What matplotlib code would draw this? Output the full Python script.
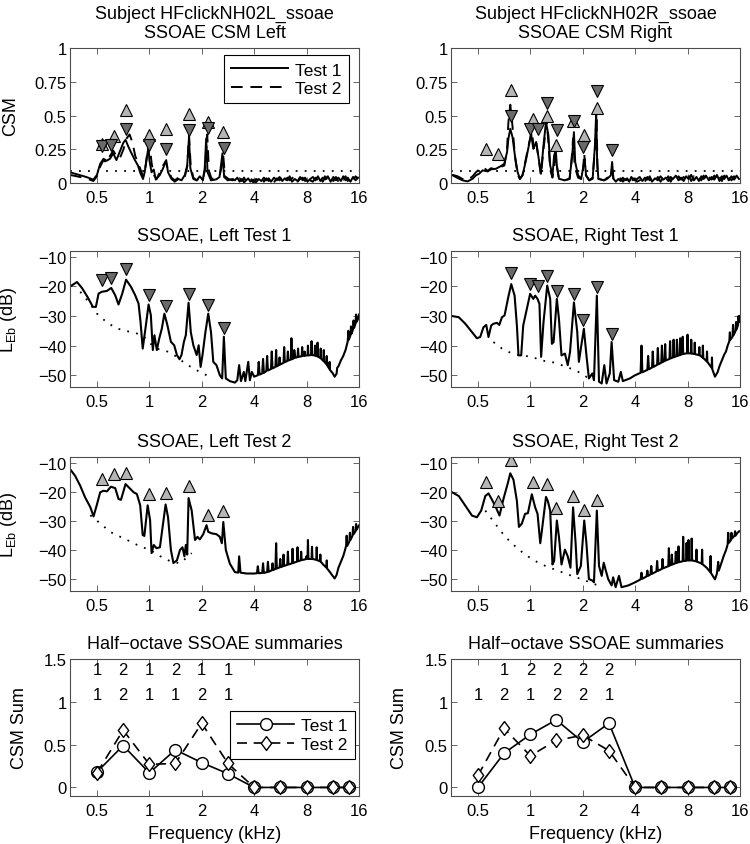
import matplotlib
matplotlib.use("Agg")
import matplotlib.pyplot as plt

plt.rcParams["font.family"] = ["Liberation Sans", "DejaVu Sans"]
plt.rcParams["font.size"] = 12
plt.rcParams["mathtext.default"] = "regular"
plt.rcParams["axes.linewidth"] = 0.8

freq_ticks = [0.5, 1, 2, 4, 8, 16]
freq_labels = ["0.5", "1", "2", "4", "8", "16"]

# ---------------- SSOAE spectra (kHz, dB) ----------------
spec_l1_f = [0.355, 0.384, 0.41, 0.441, 0.474, 0.493, 0.511, 0.533, 0.571, 0.604,
             0.637, 0.665, 0.699, 0.735, 0.784, 0.83, 0.867, 0.89, 0.916, 0.95,
             0.99, 1.02, 1.047, 1.07, 1.104, 1.14, 1.18, 1.22, 1.27, 1.33,
             1.39, 1.44, 1.49, 1.53, 1.58, 1.62, 1.68, 1.73, 1.79, 1.87,
             1.92, 1.97, 2.02, 2.1, 2.18, 2.26, 2.33, 2.43, 2.54, 2.62,
             2.68, 2.75, 2.9, 3.1, 3.2, 3.28, 3.36, 3.49, 3.56, 3.7, 3.78, 3.88,
             4.0, 4.2, 4.25, 4.3, 4.45, 4.5, 4.55, 4.7, 4.75, 4.8,
             5.0, 5.05, 5.1, 5.3, 5.35, 5.4, 5.55, 5.6, 5.65, 5.9,
             5.95, 6.0, 6.2, 6.25, 6.3, 6.5, 6.55, 6.6, 6.75, 6.8,
             6.9, 7.1, 7.15, 7.2, 7.5, 7.55, 7.6, 7.75, 7.8, 7.85,
             8.1, 8.15, 8.2, 8.5, 8.55, 8.6, 8.9, 8.95, 9.0, 9.2,
             9.25, 9.3, 9.6, 9.65, 9.7, 10.0, 10.05, 10.1, 10.4, 10.45,
             10.5, 10.8, 10.85, 10.9, 11.3, 11.6, 11.9, 12.0, 12.2, 12.6,
             13.0, 13.4, 13.6, 13.8, 13.9, 14.0, 14.3, 14.4, 14.5, 14.8,
             14.9, 15.0, 15.3, 15.4, 15.5, 15.8, 16.0]
spec_l1 = [-19.8, -18.5, -20.5, -23.5, -26.9, -26.9, -22.4, -21.8, -21.5, -20.5,
           -23, -26.1, -22.4, -17.7, -20.1, -23, -25.8, -32, -41, -34.2,
           -26.1, -29.7, -41.5, -36.5, -41.5, -37.6, -34.2, -29.2, -33.1, -38.7,
           -39.9, -43.2, -44.6, -43.2, -38.7, -36.5, -25.5, -35.4, -39.9, -43.2,
           -39.9, -47.2, -43.2, -35.4, -29.2, -35.4, -45.5, -46.6, -50, -51.1,
           -37, -51.1, -52, -52.5, -51.7, -46.6, -52, -48.9, -52, -45.5, -51.7, -48.9,
           -50.5, -50.0, -45.5, -49.8, -49.4, -44.5, -49.2, -48.6, -43.5, -48.4,
           -47.9, -42.0, -47.7, -47.2, -41.5, -47.0, -46.6, -44.0, -46.4, -45.8,
           -40.5, -45.6, -45.2, -42.0, -45.0, -44.7, -37.5, -44.6, -44.3, -41.5,
           -44.1, -43.9, -41.0, -43.8, -43.6, -40.5, -43.5, -43.4, -42.0, -43.4,
           -43.3, -40.0, -43.3, -43.2, -38.5, -43.2, -43.3, -40.0, -43.4, -43.6,
           -39.0, -43.7, -44.2, -41.0, -44.4, -45.2, -41.5, -45.4, -46.3, -43.5,
           -46.6, -47.8, -45.5, -48.2, -49.3, -50.5, -49.5, -47.5, -47.0, -45.0,
           -43.5, -41.5, -40.0, -38.5, -35.0, -38.0, -36.5, -33.5, -36.0, -34.5,
           -31.5, -34.0, -32.5, -29.5, -32.0, -31.0, -29.5]

spec_l2_f = [0.355, 0.375, 0.401, 0.427, 0.458, 0.478, 0.5, 0.522, 0.546, 0.571,
             0.601, 0.637, 0.665, 0.687, 0.73, 0.77, 0.812, 0.848, 0.886, 0.916,
             0.936, 0.978, 1.01, 1.03, 1.06, 1.1, 1.15, 1.2, 1.24, 1.28,
             1.33, 1.375, 1.44, 1.5, 1.55, 1.59, 1.62, 1.65, 1.68, 1.75,
             1.83, 1.89, 1.95, 2.04, 2.13, 2.18, 2.28, 2.43, 2.54, 2.61,
             2.66, 2.75, 2.9, 3.1, 3.24, 3.28, 3.34, 3.62,
             4.0, 4.15, 4.2, 4.25, 4.45, 4.5, 4.55, 4.75, 4.8, 4.85,
             5.05, 5.1, 5.15, 5.3, 5.35, 5.4, 5.6, 5.65, 5.7, 5.85,
             5.9, 5.95, 6.2, 6.25, 6.3, 6.6, 6.65, 6.7, 7.05, 7.1,
             7.15, 7.4, 7.45, 7.5, 7.9, 8.0, 8.1, 8.15, 8.2, 8.55,
             8.6, 8.65, 9.1, 9.15, 9.2, 9.55, 9.6, 9.65, 10.0, 10.4,
             10.45, 10.5, 10.9, 11.2, 11.6, 11.9, 12.2, 12.6, 13.0, 13.3,
             13.5, 13.6, 13.7, 14.1, 14.2, 14.3, 14.7, 14.8, 14.9, 15.3,
             15.4, 15.5, 15.8, 16.0]
spec_l2 = [-12.6, -14.5, -17.9, -21.8, -25.2, -28.4, -24.3, -20.1, -19.6, -19.8,
           -18.2, -18.7, -22.4, -22.7, -17.3, -18.7, -20.1, -20.7, -24.6, -34.8,
           -35.1, -24.6, -29.7, -41, -38.2, -39.3, -39, -30.8, -24.3, -28.6,
           -39.9, -44.4, -43.5, -39.9, -39, -42.1, -38.2, -41.5, -22.1, -26.3,
           -36.5, -35.4, -36.3, -34.5, -31.4, -33.7, -34.2, -34.5, -35.4, -37.6,
           -30.3, -39.9, -44.6, -47.5, -47.7, -42.1, -47.7, -48,
           -48.0, -47.9, -45.5, -47.9, -47.8, -44.5, -47.8, -47.5, -44.0, -47.4,
           -46.9, -44.5, -46.8, -46.4, -37.6, -46.3, -45.9, -43.0, -45.8, -45.5,
           -41.5, -45.4, -45.0, -40.5, -44.9, -44.5, -39.5, -44.4, -43.9, -39.0,
           -43.8, -43.5, -40.5, -43.4, -43.1, -42.0, -43.0, -36.5, -43.0, -43.0,
           -38.8, -43.0, -43.3, -39.0, -43.4, -43.8, -41.5, -43.9, -45.0, -46.0,
           -43.5, -46.3, -47.5, -48.5, -49.7, -48.5, -46.0, -44.0, -42.0, -40.0,
           -38.5, -35.0, -38.5, -37.0, -34.0, -36.5, -35.0, -32.0, -34.5, -33.5,
           -31.0, -33.0, -32.0, -31.5]

spec_r1_f = [0.355, 0.388, 0.423, 0.462, 0.493, 0.515, 0.538, 0.558, 0.575, 0.596,
             0.614, 0.643, 0.663, 0.687, 0.711, 0.75, 0.777, 0.812, 0.837, 0.855,
             0.886, 0.91, 0.955, 0.997, 1.04, 1.066, 1.1, 1.128, 1.153, 1.19,
             1.25, 1.3, 1.33, 1.36, 1.42, 1.46, 1.51, 1.58, 1.64, 1.69,
             1.78, 1.86, 1.9, 1.95, 2.03, 2.1, 2.17, 2.27, 2.32, 2.41,
             2.48, 2.57, 2.66, 2.74, 2.86, 2.93, 3.03, 3.2, 3.31, 3.4, 3.73,
             4.0, 4.3, 4.35, 4.4, 4.7, 4.75, 4.8, 5.0, 5.05, 5.1,
             5.35, 5.4, 5.45, 5.65, 5.7, 5.75, 5.9, 5.95, 6.0, 6.3,
             6.35, 6.4, 6.6, 6.65, 6.7, 6.9, 6.95, 7.0, 7.2, 7.25,
             7.3, 7.45, 7.5, 7.55, 7.95, 8.0, 8.05, 8.35, 8.4, 8.45,
             8.75, 8.8, 8.85, 9.3, 9.35, 9.4, 9.75, 9.8, 9.85, 10.3,
             10.35, 10.4, 11.0, 11.05, 11.1, 11.5, 11.9, 12.2, 12.6, 13.0,
             13.3, 13.6, 13.9, 14.0, 14.1, 14.5, 14.6, 14.7, 15.1, 15.2,
             15.3, 15.6, 15.7, 15.8, 16.0]
spec_r1 = [-30, -30.4, -32.6, -35.4, -37.5, -37.1, -33.8, -33, -37.1, -33.2,
           -32.6, -32.3, -33, -30.4, -29.8, -23.1, -19.2, -23.1, -33.2, -43.3,
           -43.3, -33.2, -27.6, -22.5, -24.2, -23.1, -24.2, -25.9, -43.8, -32.1,
           -19.7, -24.2, -39.4, -38.8, -24.2, -31, -43.3, -42.7, -46.6, -42.2,
           -25.4, -35.4, -45.5, -41, -34.3, -43.3, -51.1, -49.4, -51.7, -23.1,
           -52.2, -52.8, -46.6, -52.8, -49.4, -38.8, -51.7, -52.2, -48.9, -52, -51.1,
           -50.0, -49.2, -40.0, -49.0, -48.2, -43.5, -48.0, -47.4, -42.0, -47.2,
           -46.5, -40.8, -46.3, -45.8, -40.0, -45.6, -45.2, -39.5, -45.0, -44.5,
           -38.5, -44.3, -44.0, -38.0, -43.9, -43.6, -38.0, -43.5, -43.2, -37.5,
           -43.1, -42.9, -37.0, -42.8, -42.6, -36.3, -42.6, -42.6, -38.0, -42.7,
           -42.8, -39.0, -42.9, -43.2, -40.5, -43.3, -44.0, -40.0, -44.2, -45.3,
           -42.0, -45.5, -47.5, -44.0, -48.0, -50.5, -49.0, -47.0, -45.0, -43.0,
           -42.0, -40.0, -38.5, -35.5, -38.0, -37.0, -33.0, -36.5, -35.0, -32.0,
           -34.5, -33.0, -30.0, -32.0, -30.0]

spec_r2_f = [0.355, 0.388, 0.423, 0.462, 0.493, 0.522, 0.551, 0.575, 0.6, 0.634,
             0.665, 0.7, 0.743, 0.767, 0.8, 0.837, 0.86, 0.893, 0.933, 0.968,
             1.02, 1.066, 1.1, 1.14, 1.16, 1.23, 1.26, 1.3, 1.34, 1.37,
             1.42, 1.46, 1.51, 1.58, 1.64, 1.7, 1.76, 1.82, 1.86, 1.95,
             2.04, 2.1, 2.17, 2.27, 2.32, 2.41, 2.48, 2.57, 2.64, 2.7,
             2.8, 2.93, 2.99, 3.09, 3.23, 3.34, 3.65,
             4.0, 4.3, 4.35, 4.4, 4.65, 4.7, 4.75, 4.9, 4.95, 5.0,
             5.3, 5.35, 5.4, 5.7, 5.75, 5.8, 6.2, 6.25, 6.3, 6.45,
             6.5, 6.55, 6.8, 6.85, 6.9, 7.05, 7.1, 7.15, 7.5, 7.55,
             7.6, 7.85, 7.9, 7.95, 8.05, 8.1, 8.15, 8.4, 8.45, 8.5,
             8.95, 9.0, 9.05, 9.65, 9.7, 9.75, 10.3, 10.8, 10.85, 10.9,
             11.5, 11.8, 12.0, 12.1, 12.5, 12.9, 13.3, 13.6, 13.7, 13.8,
             14.2, 14.3, 14.4, 14.9, 15.0, 15.1, 15.5, 15.8, 16.0]
spec_r2 = [-20.1, -21.4, -24.7, -28.1, -28.7, -26.4, -21.4, -20.5, -22.5, -25.3,
           -28.1, -22.5, -16.9, -13.6, -15.8, -23.1, -32, -30.9, -27.5, -27.3,
           -20.8, -25.3, -27.5, -37.6, -34.2, -21.7, -23.1, -26.4, -44.9, -43.7,
           -29.8, -35.4, -44.9, -39.8, -42.1, -46, -25.3, -37.6, -48.2, -45.4,
           -29.8, -37.6, -49.9, -50.4, -51, -26.4, -45.4, -48.8, -44.3, -46.5,
           -49.9, -52.1, -49.3, -52.7, -48.8, -52.7, -52.1,
           -51.0, -50.0, -47.7, -49.8, -49.0, -47.0, -48.8, -48.3, -45.4, -48.1,
           -47.3, -43.7, -47.1, -46.4, -43.0, -46.2, -45.5, -39.3, -45.3, -45.0,
           -41.5, -44.9, -44.5, -40.5, -44.4, -44.2, -38.7, -44.1, -43.8, -35.4,
           -43.7, -43.6, -37.5, -43.5, -43.5, -36.5, -43.5, -43.5, -36.0, -43.5,
           -43.8, -39.8, -43.9, -44.6, -39.8, -44.8, -46.0, -47.5, -42.0, -47.8,
           -50.0, -48.0, -44.0, -47.0, -44.5, -42.0, -40.0, -38.0, -34.0, -37.5,
           -36.5, -34.0, -36.0, -35.0, -33.5, -35.0, -34.0, -33.5, -33.5]

# noise floors (dotted)
floor_l1_f = [0.401, 0.448, 0.5, 0.571, 0.651, 0.743, 0.848, 0.93, 1.0, 1.1, 1.27, 1.44, 1.6, 1.79, 1.95, 2.13]
floor_l1 = [-21.8, -25.2, -29.2, -32.2, -34.2, -35.1, -35.9, -37, -39, -41, -42, -43.8, -46, -47.7, -48.9, -50]
floor_l2_f = [0.458, 0.522, 0.596, 0.681, 0.777, 0.886, 1.01, 1.15, 1.32, 1.5, 1.64, 1.75]
floor_l2 = [-28, -30.8, -33.7, -35.4, -37, -38.7, -39.9, -42, -43.8, -44.5, -42.5, -41]
floor_r1_f = [0.614, 0.687, 0.767, 0.86, 1.02, 1.16, 1.36, 1.62, 1.89, 2.17]
floor_r1 = [-38.8, -41, -42.4, -43.2, -43.8, -45, -45.7, -47.2, -48.9, -51.1]
floor_r2_f = [0.551, 0.628, 0.717, 0.82, 0.933, 1.066, 1.22, 1.45, 1.73, 2.07, 2.45]
floor_r2 = [-26.4, -30.9, -35.4, -38.7, -41.5, -43.7, -45.4, -47.1, -48.8, -50.4, -52.1]

# detected peaks
pk_l1_f = [0.533, 0.601, 0.735, 1.0, 1.24, 1.68, 2.18, 2.68]
pk_l1 = [-17.9, -17.3, -14.2, -23, -26.6, -22.4, -26.1, -34]
pk_l2_f = [0.533, 0.623, 0.733, 1.0, 1.24, 1.69, 2.18, 2.66]
pk_l2 = [-15.4, -13.9, -13.4, -20.7, -20.5, -17.9, -28, -26.6]
pk_r1_f = [0.773, 0.997, 1.1, 1.25, 1.42, 1.78, 2.02, 2.41, 2.93]
pk_r1 = [-15.5, -19.2, -19.7, -16.6, -21.4, -22.5, -31.2, -20.1, -36]
pk_r2_f = [0.558, 0.648, 0.773, 1.03, 1.25, 1.41, 1.76, 2.04, 2.41]
pk_r2 = [-16.6, -23.1, -9.1, -16.6, -17.3, -25.5, -21.4, -26.1, -22.8]

# ---------------- CSM curves ----------------
csm_thresh = 0.09
csm_pk_l1 = [0.274, 0.279, 0.397, 0.284, 0.254, 0.39, 0.407, 0.259]
csm_pk_l2 = [0.29, 0.345, 0.543, 0.353, 0.397, 0.513, 0.452, 0.378]
csm_pk_r1 = [0.496, 0.402, 0.402, 0.595, 0.396, 0.456, 0.267, 0.68, 0.245]
csm_pk_r2 = [0.249, 0.215, 0.686, 0.471, 0.496, 0.279, 0.46, 0.357, 0.555]

csm_l1_f = [0.35, 0.383, 0.416, 0.445, 0.477, 0.5, 0.521, 0.545, 0.569, 0.594,
            0.62, 0.647, 0.675, 0.71, 0.73, 0.757, 0.79, 0.826, 0.86, 0.89,
            0.92, 0.94, 0.97, 0.99, 1.0, 1.03, 1.06, 1.09, 1.15, 1.2,
            1.25, 1.28, 1.34, 1.4, 1.47, 1.53, 1.6, 1.65, 1.69, 1.72,
            1.79, 1.87, 1.95, 2.03, 2.08, 2.12, 2.16, 2.26, 2.42, 2.53,
            2.58, 2.63, 2.69, 2.82, 3.0]
csm_l1 = [0.08, 0.065, 0.052, 0.04, 0.025, 0.06, 0.14, 0.18, 0.165, 0.18,
          0.22, 0.17, 0.23, 0.3, 0.32, 0.27, 0.22, 0.17, 0.13, 0.07,
          0.03, 0.08, 0.2, 0.27, 0.17, 0.08, 0.1, 0.025, 0.06, 0.11,
          0.17, 0.08, 0.03, 0.01, 0.03, 0.02, 0.06, 0.13, 0.34, 0.11,
          0.03, 0.02, 0.05, 0.02, 0.11, 0.33, 0.08, 0.02, 0.027, 0.044,
          0.13, 0.22, 0.044, 0.02, 0.03]
csm_l2_f = [0.35, 0.383, 0.416, 0.445, 0.477, 0.5, 0.521, 0.545, 0.569, 0.594,
            0.62, 0.647, 0.675, 0.71, 0.74, 0.77, 0.8, 0.83, 0.86, 0.89,
            0.92, 0.95, 0.98, 1.0, 1.03, 1.06, 1.1, 1.15, 1.2, 1.24,
            1.28, 1.34, 1.4, 1.47, 1.53, 1.6, 1.65, 1.69, 1.73, 1.79,
            1.87, 1.95, 2.03, 2.09, 2.15, 2.2, 2.28, 2.42, 2.53, 2.6,
            2.66, 2.72, 2.85, 3.0]
csm_l2 = [0.06, 0.05, 0.04, 0.03, 0.015, 0.05, 0.12, 0.17, 0.15, 0.2,
          0.24, 0.2, 0.18, 0.25, 0.33, 0.36, 0.3, 0.2, 0.15, 0.1,
          0.05, 0.12, 0.25, 0.3, 0.15, 0.06, 0.03, 0.08, 0.13, 0.16,
          0.1, 0.04, 0.02, 0.04, 0.03, 0.05, 0.12, 0.35, 0.12, 0.04,
          0.02, 0.04, 0.03, 0.1, 0.36, 0.09, 0.03, 0.04, 0.05, 0.12,
          0.2, 0.05, 0.03, 0.02]
csm_r1_f = [0.358, 0.382, 0.408, 0.436, 0.466, 0.487, 0.508, 0.532, 0.569, 0.594,
            0.635, 0.678, 0.709, 0.735, 0.748, 0.767, 0.79, 0.815, 0.845, 0.871,
            0.902, 0.943, 0.985, 1.01, 1.04, 1.08, 1.11, 1.15, 1.19, 1.23,
            1.27, 1.3, 1.34, 1.37, 1.4, 1.42, 1.46, 1.57, 1.68, 1.74,
            1.78, 1.81, 1.88, 1.96, 2.02, 2.05, 2.09, 2.18, 2.28, 2.35,
            2.39, 2.42, 2.46, 2.65, 2.77, 2.9, 2.95, 3.0]
csm_r1 = [0.057, 0.037, 0.02, 0.012, 0.032, 0.057, 0.069, 0.094, 0.086, 0.101,
          0.106, 0.126, 0.143, 0.23, 0.328, 0.402, 0.34, 0.205, 0.081, 0.032,
          0.057, 0.168, 0.291, 0.365, 0.254, 0.304, 0.205, 0.069, 0.279, 0.452,
          0.353, 0.131, 0.057, 0.205, 0.242, 0.131, 0.032, 0.02, 0.032, 0.205,
          0.377, 0.156, 0.057, 0.032, 0.131, 0.18, 0.057, 0.02, 0.032, 0.279,
          0.526, 0.156, 0.032, 0.02, 0.032, 0.057, 0.156, 0.032]
csm_r2_f = [0.358, 0.382, 0.408, 0.436, 0.466, 0.487, 0.508, 0.532, 0.569, 0.594,
            0.635, 0.678, 0.709, 0.735, 0.748, 0.767, 0.79, 0.815, 0.845, 0.871,
            0.902, 0.943, 0.985, 1.02, 1.05, 1.08, 1.11, 1.15, 1.19, 1.24,
            1.27, 1.3, 1.34, 1.37, 1.4, 1.43, 1.46, 1.57, 1.68, 1.72,
            1.76, 1.8, 1.88, 1.96, 2.01, 2.04, 2.08, 2.18, 2.28, 2.35,
            2.4, 2.43, 2.46, 2.65, 2.77, 2.9, 2.95, 3.0]
csm_r2 = [0.06, 0.05, 0.03, 0.02, 0.05, 0.08, 0.1, 0.12, 0.09, 0.11,
          0.1, 0.12, 0.13, 0.25, 0.45, 0.58, 0.42, 0.2, 0.06, 0.03,
          0.06, 0.18, 0.3, 0.38, 0.25, 0.3, 0.2, 0.06, 0.25, 0.46,
          0.3, 0.1, 0.04, 0.12, 0.2, 0.1, 0.03, 0.02, 0.03, 0.15,
          0.33, 0.12, 0.04, 0.03, 0.1, 0.22, 0.06, 0.02, 0.04, 0.25,
          0.5, 0.12, 0.03, 0.02, 0.04, 0.05, 0.1, 0.03]

# high-frequency CSM noise, shared frequency samples
csm_hf_f = [3.1, 3.2, 3.3, 3.4, 3.5, 3.6, 3.7, 3.8, 3.95, 4.1,
            4.25, 4.4, 4.55, 4.7, 4.85, 5.0, 5.2, 5.4, 5.6, 5.8,
            6.0, 6.2, 6.4, 6.6, 6.85, 7.1, 7.35, 7.6, 7.85, 8.1,
            8.4, 8.7, 9.0, 9.3, 9.6, 9.9, 10.2, 10.6, 11.0, 11.4,
            11.8, 12.2, 12.6, 13.0, 13.4, 13.8, 14.3, 14.8, 15.3, 15.8]
csm_hf_l1 = [0.02, 0.04, 0.01, 0.03, 0.005, 0.02, 0.035, 0.01, 0.025, 0.005,
             0.03, 0.015, 0.04, 0.02, 0.035, 0.01, 0.04, 0.02, 0.045, 0.015,
             0.035, 0.02, 0.05, 0.01, 0.03, 0.015, 0.045, 0.02, 0.04, 0.01,
             0.03, 0.045, 0.02, 0.05, 0.015, 0.04, 0.025, 0.05, 0.01, 0.045,
             0.02, 0.04, 0.015, 0.05, 0.02, 0.04, 0.01, 0.045, 0.02, 0.04]
csm_hf_l2 = [0.03, 0.01, 0.035, 0.015, 0.04, 0.01, 0.025, 0.04, 0.005, 0.03,
             0.02, 0.045, 0.01, 0.035, 0.015, 0.04, 0.005, 0.035, 0.02, 0.045,
             0.01, 0.04, 0.02, 0.035, 0.05, 0.01, 0.03, 0.04, 0.015, 0.045,
             0.02, 0.01, 0.04, 0.02, 0.045, 0.01, 0.05, 0.02, 0.04, 0.015,
             0.045, 0.01, 0.04, 0.025, 0.05, 0.015, 0.045, 0.02, 0.05, 0.03]
csm_hf_r1 = [0.01, 0.03, 0.015, 0.04, 0.02, 0.035, 0.01, 0.045, 0.02, 0.03,
             0.045, 0.015, 0.04, 0.025, 0.05, 0.01, 0.035, 0.02, 0.05, 0.025,
             0.04, 0.015, 0.045, 0.03, 0.055, 0.02, 0.04, 0.015, 0.05, 0.03,
             0.06, 0.02, 0.045, 0.015, 0.05, 0.03, 0.055, 0.02, 0.045, 0.025,
             0.06, 0.015, 0.05, 0.03, 0.055, 0.02, 0.05, 0.025, 0.055, 0.03]
csm_hf_r2 = [0.03, 0.015, 0.035, 0.01, 0.03, 0.02, 0.04, 0.015, 0.035, 0.01,
             0.02, 0.04, 0.01, 0.045, 0.02, 0.04, 0.015, 0.045, 0.01, 0.04,
             0.02, 0.05, 0.01, 0.04, 0.02, 0.05, 0.025, 0.045, 0.02, 0.055,
             0.015, 0.05, 0.025, 0.04, 0.02, 0.055, 0.015, 0.045, 0.025, 0.055,
             0.02, 0.05, 0.015, 0.055, 0.025, 0.045, 0.02, 0.05, 0.015, 0.045]

# ---------------- half-octave summaries ----------------
band_f = [0.5, 0.707, 1, 1.41, 2, 2.83, 4, 5.66, 8, 11.3, 14]
sum_l1 = [0.18, 0.49, 0.17, 0.44, 0.29, 0.16, 0, 0, 0, 0, 0]
sum_l2 = [0.17, 0.67, 0.27, 0.28, 0.75, 0.28, 0, 0, 0, 0, 0]
sum_r1 = [0, 0.4, 0.62, 0.79, 0.53, 0.75, 0, 0, 0, 0, 0]
sum_r2 = [0.14, 0.69, 0.37, 0.55, 0.61, 0.43, 0, 0, 0, 0, 0]
count_l1 = ["1", "2", "1", "2", "1", "1"]
count_l2 = ["1", "2", "1", "1", "2", "1"]
count_r1 = ["", "1", "2", "2", "2", "2"]
count_r2 = ["1", "2", "1", "2", "2", "1"]

LIGHT = "#b5b5b5"
DARK = "#6a6a6a"
FRAME = "#4d4d4d"
TITLE_FS = 13
LABEL_FS = 13
LEG_FS = 12.5
DIAMOND = [(0, 1), (0.75, 0), (0, -1), (-0.75, 0), (0, 1)]

fig = plt.figure(figsize=(7.5, 8.45), dpi=100)
col_x = [0.0933, 0.6013]
width = 0.3853
rows = [(0.7822, 0.1598), (0.5408, 0.161), (0.2994, 0.1586), (0.0568, 0.162)]
axes = [[fig.add_axes([cx, rb, width, rh]) for cx in col_x] for rb, rh in rows]


def freq_axis(ax):
    ax.set_xscale("log", base=2)
    ax.set_xlim(0.35, 16)
    ax.set_xticks(freq_ticks, freq_labels)
    ax.minorticks_off()
    ax.tick_params(direction="in", top=True, right=True, length=4, width=0.6, color=FRAME)
    ax.tick_params(axis="x", pad=5)
    ax.tick_params(axis="y", pad=2.5)
    for s in ax.spines.values():
        s.set_color(FRAME)


def csm_panel(ax, f1, c1, f2, c2, pf1, p1, pf2, p2, title):
    ax.axhline(csm_thresh, color="black", lw=1.3, ls=(0, (1, 4)))
    h1, = ax.plot(f1, c1, color="black", lw=1.4, label="Test 1")
    h2, = ax.plot(f2, c2, color="black", lw=1.4, ls=(0, (6, 4)), label="Test 2")
    ax.plot(pf2, p2, ls="none", marker="^", ms=9, mfc=LIGHT, mec="black", mew=0.8)
    ax.plot(pf1, p1, ls="none", marker="v", ms=9, mfc=DARK, mec="black", mew=0.8)
    freq_axis(ax)
    ax.set_ylim(0, 1)
    ax.set_yticks([0, 0.25, 0.5, 0.75, 1], ["0", "0.25", "0.5", "0.75", "1"])
    ax.set_title(title, pad=8, fontsize=TITLE_FS, linespacing=1.15)
    return h1, h2


def spec_panel(ax, f, lev, ff, fl, pf, pk, marker, face, title):
    ax.plot(ff, fl, color="black", lw=1.3, ls=(0, (1, 4)))
    ax.plot(f, lev, color="black", lw=1.5)
    ax.plot(pf, pk, ls="none", marker=marker, ms=9, mfc=face, mec="black", mew=0.8)
    freq_axis(ax)
    ax.set_ylim(-54, -8)
    ax.set_yticks([-50, -40, -30, -20, -10])
    ax.set_title(title, pad=8, fontsize=TITLE_FS)


def sum_panel(ax, s1, s2, n1, n2):
    ax.plot(band_f, s1, color="black", lw=1.2, marker="o", ms=8.5, mfc="white", mec="black", mew=1.0,
            label="Test 1")
    ax.plot(band_f, s2, color="black", lw=1.2, ls=(0, (6, 4)), marker=DIAMOND, ms=10, mfc="white",
            mec="black", mew=1.0, label="Test 2")
    for f, a, b in zip(band_f, n1, n2):
        ax.text(f, 1.38, a, ha="center", va="center", fontsize=12)
        ax.text(f, 1.09, b, ha="center", va="center", fontsize=12)
    freq_axis(ax)
    ax.set_ylim(-0.1, 1.5)
    ax.set_yticks([0, 0.5, 1, 1.5], ["0", "0.5", "1", "1.5"])
    ax.set_title("Half\u2212octave SSOAE summaries", pad=8, fontsize=TITLE_FS)
    ax.set_xlabel("Frequency (kHz)", fontsize=LABEL_FS, labelpad=5)
    ax.set_ylabel("CSM Sum", fontsize=LABEL_FS)


leg_kw = dict(loc="upper right", fancybox=False, edgecolor="black", handlelength=3.3, borderpad=0.4,
              labelspacing=0.2, handletextpad=0.4, borderaxespad=0, framealpha=1, fontsize=LEG_FS)

h1, h2 = csm_panel(axes[0][0], csm_l1_f + csm_hf_f, csm_l1 + csm_hf_l1, csm_l2_f + csm_hf_f, csm_l2 + csm_hf_l2,
                   pk_l1_f, csm_pk_l1, pk_l2_f, csm_pk_l2, "Subject HFclickNH02L_ssoae\nSSOAE CSM Left")
leg = axes[0][0].legend(handles=[h1, h2], bbox_to_anchor=(0.965, 0.945), **leg_kw)
leg.get_frame().set_linewidth(0.8)
csm_panel(axes[0][1], csm_r1_f + csm_hf_f, csm_r1 + csm_hf_r1, csm_r2_f + csm_hf_f, csm_r2 + csm_hf_r2,
          pk_r1_f, csm_pk_r1, pk_r2_f, csm_pk_r2, "Subject HFclickNH02R_ssoae\nSSOAE CSM Right")
axes[0][0].set_ylabel("CSM", fontsize=LABEL_FS)

spec_panel(axes[1][0], spec_l1_f, spec_l1, floor_l1_f, floor_l1, pk_l1_f, pk_l1, "v", DARK, "SSOAE, Left Test 1")
spec_panel(axes[1][1], spec_r1_f, spec_r1, floor_r1_f, floor_r1, pk_r1_f, pk_r1, "v", DARK, "SSOAE, Right Test 1")
spec_panel(axes[2][0], spec_l2_f, spec_l2, floor_l2_f, floor_l2, pk_l2_f, pk_l2, "^", LIGHT, "SSOAE, Left Test 2")
spec_panel(axes[2][1], spec_r2_f, spec_r2, floor_r2_f, floor_r2, pk_r2_f, pk_r2, "^", LIGHT, "SSOAE, Right Test 2")
axes[1][0].set_ylabel("L$_{Eb}$ (dB)", fontsize=LABEL_FS)
axes[2][0].set_ylabel("L$_{Eb}$ (dB)", fontsize=LABEL_FS)

sum_panel(axes[3][0], sum_l1, sum_l2, count_l1, count_l2)
sum_panel(axes[3][1], sum_r1, sum_r2, count_r1, count_r2)
leg = axes[3][0].legend(bbox_to_anchor=(0.985, 0.62), **leg_kw)
leg.get_frame().set_linewidth(0.8)

for ax in [axes[0][0], axes[1][0], axes[2][0]]:
    ax.yaxis.set_label_coords(-0.175, 0.5)
axes[3][0].yaxis.set_label_coords(-0.145, 0.5)
axes[3][1].yaxis.set_label_coords(-0.149, 0.5)

fig.savefig("out.png", dpi=100)
